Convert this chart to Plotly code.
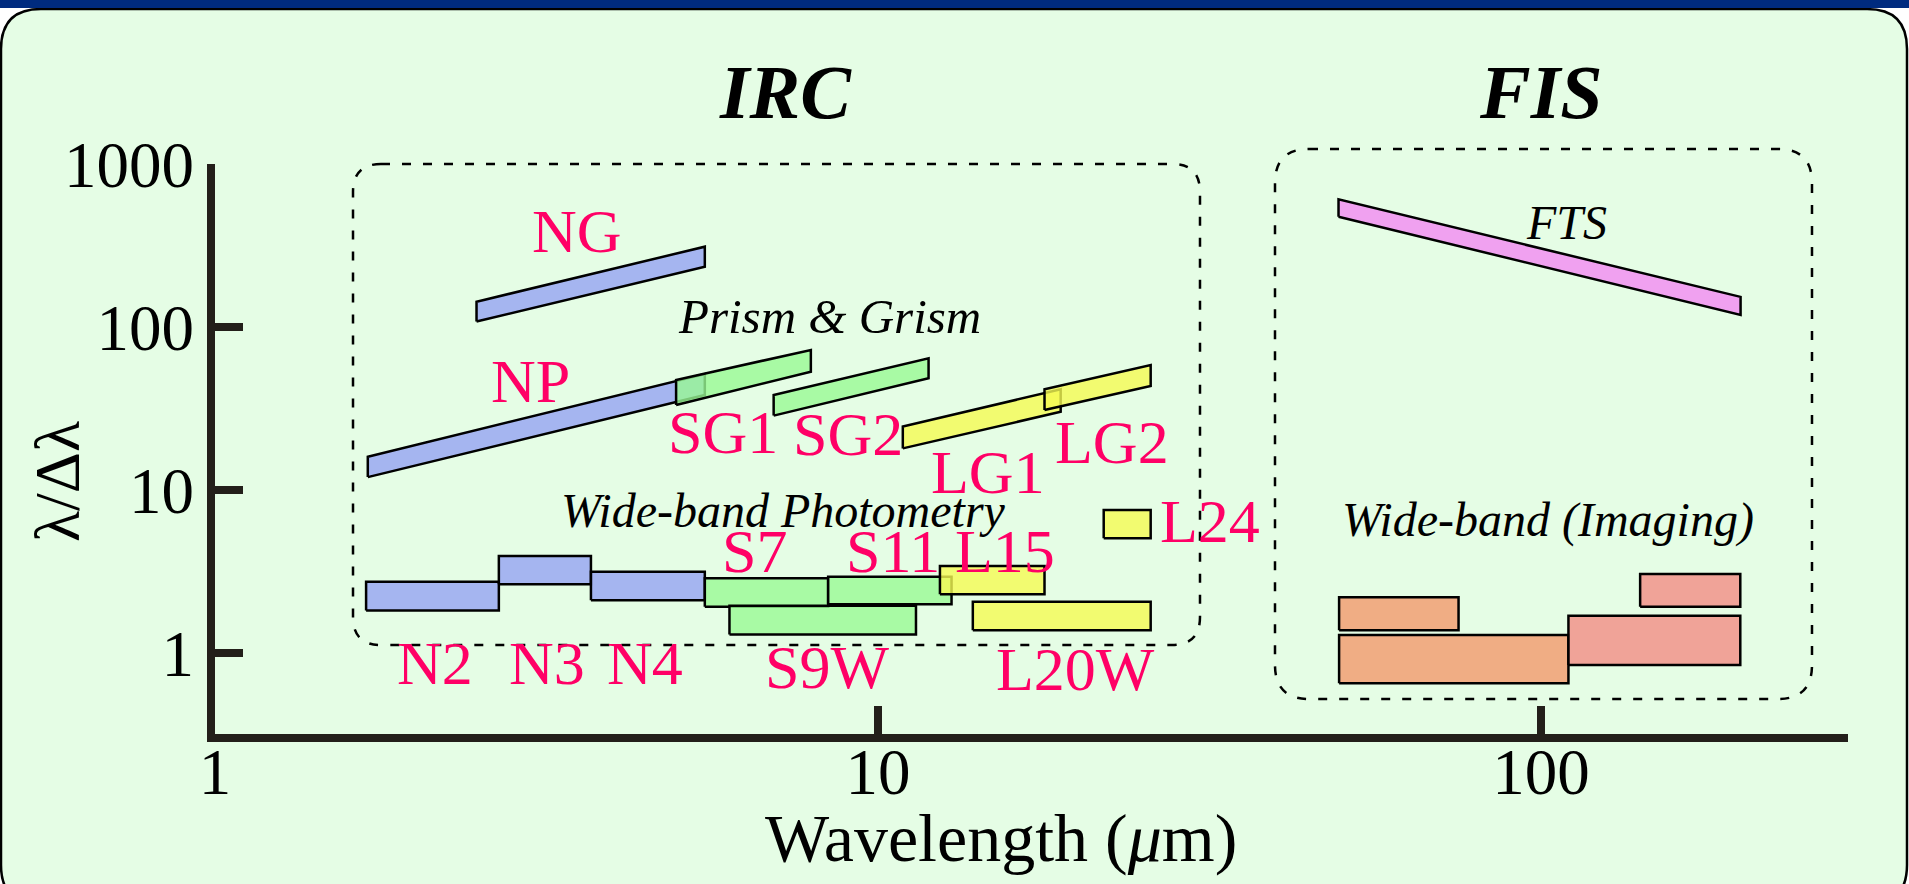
import plotly.graph_objects as go

# ---------------- data ----------------
# Spectroscopic modes: wavelength coverage (um) and resolving power at both ends
spec_names = ["NP", "NG", "SG1", "SG2", "LG1", "LG2", "FTS"]
spec_lam_min = [1.70, 2.48, 4.96, 6.96, 10.9, 17.83, 49.5]
spec_lam_max = [5.48, 5.48, 7.92, 11.92, 18.86, 25.78, 200.0]
spec_r_lo_min = [12.0, 108, 33.2, 28.6, 18.0, 31.0, 475]
spec_r_hi_min = [16.0, 143, 47.3, 38.3, 24.5, 41.5, 607]
spec_r_lo_max = [38.3, 234, 53.2, 48.5, 30.2, 43.5, 118.5]
spec_r_hi_max = [51.5, 311, 72.3, 64.3, 41.5, 58.4, 153]
spec_colors = ["blue", "blue", "green", "green", "yellow", "yellow", "pink"]

# Wide-band filters: wavelength coverage (um) and lambda/dlambda range
band_names = ["N2", "N3", "N4", "S7", "S11", "S9W", "L15", "L20W", "L24",
              "N60", "WIDE-S", "WIDE-L", "N160"]
band_lam_min = [1.69, 2.68, 3.69, 5.48, 8.41, 5.97, 12.40, 13.90, 21.90,
                49.6, 49.6, 110.0, 141.1]
band_lam_max = [2.68, 3.69, 5.48, 8.41, 12.91, 11.41, 17.83, 25.78, 25.78,
                75.1, 110.0, 199.8, 199.8]
band_r_lo = [1.82, 2.64, 2.11, 1.92, 1.99, 1.30, 2.29, 1.38, 5.05,
             1.38, 0.652, 0.844, 1.92]
band_r_hi = [2.74, 3.94, 3.15, 2.87, 2.94, 1.95, 3.42, 2.06, 7.54,
             2.20, 1.29, 1.69, 3.05]
band_colors = ["blue", "blue", "blue", "green", "green", "green", "yellow",
               "yellow", "yellow", "orange", "orange", "salmon", "salmon"]

x_tick_vals = [1, 10, 100]
y_tick_vals = [1, 10, 100, 1000]

# ---------------- styling ----------------
FILL = {
    "blue": "rgba(149,162,243,0.8)",
    "green": "rgba(153,249,148,0.8)",
    "yellow": "rgba(245,250,83,0.8)",
    "pink": "rgba(243,137,243,0.8)",
    "orange": "rgba(243,152,108,0.8)",
    "salmon": "rgba(243,140,133,0.8)",
}
BG = "#E5FDE5"
LABEL_RED = "#FF0066"
SERIF = "Liberation Serif, Times New Roman, serif"

W_FIG, H_FIG = 1909, 884
L, T, W, H = 215, 164, 1633, 570


def px(x):
    return (x - L) / W


def py(y):
    return (T + H - y) / H


def rounded_path(x0, y0, x1, y1, r):
    pts = [
        ("M", [(x0 + r, y0)]), ("L", [(x1 - r, y0)]), ("Q", [(x1, y0), (x1, y0 + r)]),
        ("L", [(x1, y1 - r)]), ("Q", [(x1, y1), (x1 - r, y1)]),
        ("L", [(x0 + r, y1)]), ("Q", [(x0, y1), (x0, y1 - r)]),
        ("L", [(x0, y0 + r)]), ("Q", [(x0, y0), (x0 + r, y0)]),
    ]
    parts = []
    for cmd, coords in pts:
        parts.append(cmd + " ".join(f"{px(a):.5f},{py(b):.5f}" for a, b in coords))
    return " ".join(parts) + " Z"


fig = go.Figure()

# spectroscopic coverage drawn as slanted bands (NP first so SG1 overlays it)
for i, name in enumerate(spec_names):
    xs = [spec_lam_min[i], spec_lam_max[i], spec_lam_max[i], spec_lam_min[i], spec_lam_min[i]]
    ys = [spec_r_lo_min[i], spec_r_lo_max[i], spec_r_hi_max[i], spec_r_hi_min[i], spec_r_lo_min[i]]
    fig.add_trace(go.Scatter(
        x=xs, y=ys, mode="lines", fill="toself",
        fillcolor=FILL[spec_colors[i]], line=dict(color="black", width=2.5),
        name=name, hoverinfo="name", showlegend=False,
    ))

# wide-band filters drawn as rectangles
for i, name in enumerate(band_names):
    x0, x1 = band_lam_min[i], band_lam_max[i]
    y0, y1 = band_r_lo[i], band_r_hi[i]
    fig.add_trace(go.Scatter(
        x=[x0, x1, x1, x0, x0], y=[y0, y0, y1, y1, y0], mode="lines", fill="toself",
        fillcolor=FILL[band_colors[i]], line=dict(color="black", width=2.5),
        name=name, hoverinfo="name", showlegend=False,
    ))

shapes = [
    # panel background with rounded corners
    dict(type="path", xref="paper", yref="paper", layer="below",
         path=rounded_path(1, 9, 1907, 905, 40),
         fillcolor=BG, line=dict(color="black", width=2.5)),
    # top banner strip
    dict(type="rect", xref="paper", yref="paper", layer="below",
         x0=px(0), x1=px(W_FIG), y0=py(0), y1=py(8),
         fillcolor="#002B7F", line=dict(width=0)),
    # instrument group boxes
    dict(type="path", xref="paper", yref="paper", layer="below",
         path=rounded_path(353, 164, 1200, 645, 28),
         line=dict(color="black", width=2.5, dash="9px,12px")),
    dict(type="path", xref="paper", yref="paper", layer="below",
         path=rounded_path(1275, 149, 1812, 699, 34),
         line=dict(color="black", width=2.5, dash="9px,12px")),
]

annotations = []


def label(text, x, y, size, color="black", angle=0):
    annotations.append(dict(
        text=text, xref="paper", yref="paper", x=px(x), y=py(y),
        xanchor="center", yanchor="middle", showarrow=False, textangle=angle,
        font=dict(family=SERIF, size=size, color=color),
    ))


# instrument titles
label("<b><i>IRC</i></b>", 785, 92, 76)
label("<b><i>FIS</i></b>", 1541, 92, 76)

# group captions
label("<i>Prism &amp; Grism</i>", 829, 316, 49)
label("<i>Wide-band Photometry</i>", 783, 510, 48)
label("<i>Wide-band (Imaging)</i>", 1548, 520, 48)
label("<i>FTS</i>", 1566, 222, 48)

# mode names
mode_labels = [
    ("NG", 577, 231), ("NP", 530, 381), ("SG1", 723, 432), ("SG2", 848, 434),
    ("LG1", 988, 472), ("LG2", 1112, 442), ("L24", 1210, 521),
    ("S7", 754, 551), ("S11", 893, 551), ("L15", 1005, 551),
    ("N2", 435, 663), ("N3", 547, 663), ("N4", 645, 663),
    ("S9W", 827, 667), ("L20W", 1075, 669),
]
for text, x, y in mode_labels:
    label(text, x, y, 62, LABEL_RED)

# axis titles
label("Wavelength (<i>μ</i>m)", 1001, 838, 68)
label("λ/Δλ", 57, 482, 64, angle=-90)

axis_common = dict(
    type="log", showline=True, linewidth=8, linecolor="#231F1A",
    ticks="inside", tickwidth=8, tickcolor="#231F1A", ticklen=28,
    showgrid=False, zeroline=False, mirror=False,
    tickfont=dict(family=SERIF, size=65, color="black"),
)

fig.update_layout(
    width=W_FIG, height=H_FIG,
    margin=dict(l=L, r=W_FIG - L - W, t=T, b=H_FIG - T - H, pad=0),
    paper_bgcolor="white", plot_bgcolor="rgba(0,0,0,0)",
    xaxis=dict(axis_common, range=[0, W / 663], tickvals=x_tick_vals,
               ticktext=[str(v) for v in x_tick_vals], ticklabelstandoff=-26),
    yaxis=dict(axis_common, range=[3 - H / 163, 3], tickvals=y_tick_vals,
               ticktext=[str(v) for v in y_tick_vals]),
    shapes=shapes, annotations=annotations,
)

fig.write_html("out.html")
